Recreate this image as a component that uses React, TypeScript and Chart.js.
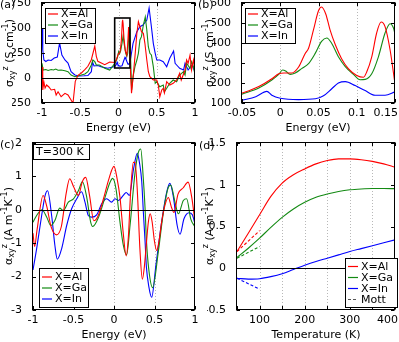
import React, { useEffect, useRef } from 'react';
import { Chart, registerables } from 'chart.js';

Chart.register(...registerables);
Chart.defaults.font.family = '"DejaVu Sans", sans-serif';
Chart.defaults.font.size = 11;
Chart.defaults.color = '#000';

type Pt = [number, number];

const W = 399;
const H = 342;
const RED = '#ff0000';
const GREEN = '#138a13';
const BLUE = '#0000ff';
const MOTT = '#555555';
const FONT = '11px "DejaVu Sans", sans-serif';
const SMALL = '8px "DejaVu Sans", sans-serif';

// ---------- Panel (a): sigma_xy^z vs energy, full range ----------
const aAl: Pt[] = [[-1.0,110],[-0.99,-120],[-0.975,-40],[-0.96,-100],[-0.94,-70],[-0.91,-90],[-0.88,-120],[-0.835,-113],[-0.815,-170],[-0.79,-137],[-0.75,-187],[-0.7,-153],[-0.66,-170],[-0.62,-220],[-0.595,-253],[-0.565,-33],[-0.53,27],[-0.485,50],[-0.44,83],[-0.4,117],[-0.355,183],[-0.31,320],[-0.29,217],[-0.27,167],[-0.225,150],[-0.18,133],[-0.115,160],[-0.05,155],[-0.028,182],[-0.011,221],[0.0,246],[0.015,250],[0.024,280],[0.037,374],[0.05,561],[0.054,583],[0.06,544],[0.072,391],[0.089,272],[0.108,229],[0.12,331],[0.132,510],[0.144,365],[0.15,195],[0.16,13],[0.17,-153],[0.19,0],[0.215,213],[0.24,447],[0.26,563],[0.28,513],[0.3,463],[0.325,447],[0.345,347],[0.37,180],[0.39,63],[0.41,13],[0.455,-20],[0.5,-20],[0.52,-70],[0.54,-187],[0.565,-120],[0.585,-103],[0.6,-150],[0.63,-37],[0.67,-70],[0.715,-53],[0.76,-20],[0.8,47],[0.82,-20],[0.87,80],[0.89,180],[0.91,147],[0.935,230],[0.955,80],[0.98,180],[1.0,80]];
const aGa: Pt[] = [[-1.0,147],[-0.985,80],[-0.95,85],[-0.92,75],[-0.88,85],[-0.85,80],[-0.82,90],[-0.79,78],[-0.75,80],[-0.7,73],[-0.66,63],[-0.62,30],[-0.57,13],[-0.53,20],[-0.485,30],[-0.44,40],[-0.4,63],[-0.355,130],[-0.335,180],[-0.31,163],[-0.29,130],[-0.25,130],[-0.18,97],[-0.115,80],[-0.05,144],[-0.028,175],[-0.011,215],[0.002,263],[0.013,243],[0.028,272],[0.046,348],[0.061,425],[0.076,331],[0.096,243],[0.108,217],[0.12,246],[0.137,450],[0.144,496],[0.15,450],[0.16,150],[0.172,-120],[0.19,13],[0.215,113],[0.24,180],[0.26,247],[0.28,380],[0.3,413],[0.325,530],[0.35,610],[0.37,480],[0.39,313],[0.41,247],[0.43,230],[0.455,113],[0.48,-53],[0.5,-37],[0.54,-87],[0.585,-70],[0.6,-137],[0.63,-103],[0.67,-53],[0.715,-20],[0.76,-37],[0.8,30],[0.85,63],[0.87,30],[0.89,147],[0.935,97],[0.955,163],[0.98,113],[1.0,30]];
const aIn: Pt[] = [[-1.0,500],[-0.99,280],[-0.975,180],[-0.95,165],[-0.92,180],[-0.88,175],[-0.84,200],[-0.8,210],[-0.77,350],[-0.74,230],[-0.7,180],[-0.66,150],[-0.62,63],[-0.57,30],[-0.52,20],[-0.45,22],[-0.4,25],[-0.355,63],[-0.34,160],[-0.32,120],[-0.27,125],[-0.23,113],[-0.14,97],[-0.05,114],[-0.032,131],[-0.018,158],[-0.011,139],[0.0,124],[0.024,117],[0.046,121],[0.067,170],[0.085,207],[0.098,187],[0.111,162],[0.124,139],[0.137,139],[0.15,156],[0.17,250],[0.19,347],[0.24,463],[0.28,513],[0.32,530],[0.37,580],[0.4,700],[0.43,513],[0.455,347],[0.48,247],[0.5,180],[0.54,180],[0.585,163],[0.63,113],[0.67,197],[0.72,270],[0.74,147],[0.76,130],[0.8,97],[0.85,80],[0.87,147],[0.91,80],[0.96,130],[1.0,63]];
const aXTicks = [-1, -0.5, 0, 0.5, 1];
const aYTicks = [-250, 0, 250, 500, 750];

// ---------- Panel (b): zoom of the box in (a) ----------
const bAl: Pt[] = [[-0.05,150],[-0.04,163],[-0.028,182],[-0.011,221],[-0.002,246],[0.005,250],[0.015,250],[0.024,280],[0.0326,348],[0.037,374],[0.0435,467],[0.05,561],[0.054,580],[0.0596,544],[0.065,467],[0.072,391],[0.08,323],[0.089,272],[0.1,238],[0.1088,229],[0.113,255],[0.1196,331],[0.126,450],[0.1318,505],[0.137,482],[0.1436,365],[0.15,195]];
const bGa: Pt[] = [[-0.05,144],[-0.028,175],[-0.011,215],[-0.002,243],[0.003,265],[0.007,260],[0.013,243],[0.0196,250],[0.028,272],[0.037,297],[0.0457,348],[0.054,408],[0.0608,425],[0.067,400],[0.076,331],[0.085,282],[0.0957,243],[0.1044,216],[0.111,218],[0.1196,246],[0.1283,331],[0.137,450],[0.1436,496],[0.148,475],[0.15,445]];
const bIn: Pt[] = [[-0.05,114],[-0.032,131],[-0.0175,158],[-0.011,139],[0.0,124],[0.024,117],[0.046,121],[0.0565,136],[0.067,170],[0.076,200],[0.085,207],[0.098,187],[0.111,162],[0.124,139],[0.137,139],[0.15,156]];
const bXTicks = [-0.05, 0, 0.05, 0.1, 0.15];
const bYTicks = [100, 200, 300, 400, 500, 600];

// ---------- Panel (c): alpha_xy^z vs energy at T = 300 K ----------
const cAl: Pt[] = [[-1.0,-0.7],[-0.98,-1.1],[-0.95,-0.6],[-0.875,0.43],[-0.83,0.1],[-0.775,-0.52],[-0.71,-0.75],[-0.65,-0.5],[-0.59,0.5],[-0.547,0.93],[-0.5,0.7],[-0.44,0.43],[-0.39,0.85],[-0.35,0.97],[-0.3,0.4],[-0.25,-0.33],[-0.2,-0.2],[-0.13,0.33],[-0.06,0.95],[0.0,1.3],[0.037,0.95],[0.074,0.37],[0.115,-0.72],[0.15,-1.38],[0.177,-0.82],[0.206,0.56],[0.239,1.42],[0.26,1.42],[0.288,0.56],[0.321,-1.22],[0.35,-2.08],[0.375,-1.7],[0.4,-1.0],[0.425,-0.35],[0.447,-0.12],[0.47,-0.35],[0.5,-0.95],[0.527,-1.22],[0.555,-0.95],[0.588,-0.37],[0.62,0.05],[0.67,0.37],[0.71,0.07],[0.74,-0.08],[0.79,0.47],[0.855,0.66],[0.915,0.83],[0.96,0.37],[1.0,-0.37]];
const cGa: Pt[] = [[-1.0,-0.37],[-0.955,-0.17],[-0.89,0.0],[-0.83,-0.22],[-0.78,-0.47],[-0.73,-0.32],[-0.67,0.05],[-0.625,-0.02],[-0.564,0.23],[-0.5,0.33],[-0.44,0.57],[-0.39,0.84],[-0.337,0.38],[-0.288,-0.37],[-0.263,-0.5],[-0.19,-0.22],[-0.11,0.38],[-0.05,0.82],[-0.016,0.94],[0.025,0.62],[0.074,-0.37],[0.115,-1.06],[0.156,-1.35],[0.198,-0.47],[0.26,1.12],[0.3,1.71],[0.33,1.82],[0.36,1.0],[0.383,0.07],[0.4,-0.9],[0.43,-1.8],[0.477,-2.33],[0.547,-1.26],[0.61,-0.07],[0.67,0.67],[0.7,0.74],[0.753,0.23],[0.794,-0.12],[0.856,0.28],[0.897,0.33],[0.947,-0.27],[1.0,-0.51]];
const cIn: Pt[] = [[-1.0,-1.8],[-0.955,-1.16],[-0.893,-0.17],[-0.85,0.43],[-0.82,0.57],[-0.77,-0.17],[-0.73,-1.06],[-0.7,-1.48],[-0.646,-1.16],[-0.584,-0.47],[-0.523,0.03],[-0.46,0.33],[-0.4,0.54],[-0.358,0.23],[-0.317,-0.17],[-0.276,-0.22],[-0.214,-0.15],[-0.152,0.18],[-0.09,0.33],[-0.03,0.23],[0.012,0.33],[0.053,0.28],[0.115,0.43],[0.15,0.52],[0.19,0.43],[0.24,1.2],[0.288,1.69],[0.315,1.4],[0.342,0.86],[0.362,-0.05],[0.383,-0.92],[0.4,-1.71],[0.43,-2.3],[0.465,-2.62],[0.518,-1.65],[0.588,-0.37],[0.65,0.52],[0.69,0.79],[0.73,0.43],[0.78,-0.47],[0.815,-0.73],[0.864,-0.27],[0.926,-0.09],[0.967,-0.15],[1.0,-0.42]];
const cXTicks = [-1, -0.5, 0, 0.5, 1];
const cYTicks = [-3, -2, -1, 0, 1, 2];

// ---------- Panel (d): alpha_xy^z at E_F vs temperature ----------
const dAl: Pt[] = [[50,0.2],[75,0.42],[100,0.64],[125,0.86],[150,1.02],[175,1.12],[200,1.19],[225,1.25],[250,1.29],[275,1.31],[300,1.31],[325,1.3],[350,1.28],[375,1.25],[400,1.21]];
const dGa: Pt[] = [[50,0.13],[75,0.24],[100,0.36],[125,0.49],[150,0.61],[175,0.71],[200,0.79],[225,0.85],[250,0.89],[275,0.92],[300,0.94],[325,0.95],[350,0.955],[375,0.955],[400,0.953]];
const dIn: Pt[] = [[50,-0.12],[75,-0.13],[100,-0.125],[125,-0.1],[150,-0.065],[175,-0.015],[200,0.035],[225,0.08],[250,0.12],[275,0.16],[300,0.2],[325,0.235],[350,0.27],[375,0.305],[400,0.34]];
const dMottAl: Pt[] = [[50,0.2],[100,0.45]];
const dMottGa: Pt[] = [[50,0.12],[100,0.26]];
const dMottIn: Pt[] = [[50,-0.12],[100,-0.25]];
const dXTicks = [50, 100, 150, 200, 250, 300, 350, 400];
const dXLabels = [100, 200, 300, 400];
const dYTicks = [-0.5, 0, 0.5, 1, 1.5];

const materialLabels = ['X=Al', 'X=Ga', 'X=In'];
const mottLabel = 'Mott';

type Part = { t: string; k: 'n' | 'sub' | 'sup' };
const sigmaTitle: Part[] = [
  { t: 'σ', k: 'n' }, { t: 'xy', k: 'sub' }, { t: 'z', k: 'sup' },
  { t: ' (S cm', k: 'n' }, { t: '-1', k: 'sup' }, { t: ')', k: 'n' },
];
const alphaTitle: Part[] = [
  { t: 'α', k: 'n' }, { t: 'xy', k: 'sub' }, { t: 'z', k: 'sup' },
  { t: ' (A m', k: 'n' }, { t: '-1', k: 'sup' }, { t: 'K', k: 'n' }, { t: '-1', k: 'sup' }, { t: ')', k: 'n' },
];

interface Series { data: Pt[]; color: string; dash?: number[]; smooth: boolean }
interface LegendEntry { label: string; color: string; dash?: number[] }
interface Panel {
  area: { l: number; t: number; r: number; b: number };
  x: [number, number]; y: [number, number];
  xTicks: number[]; yTicks: number[]; xLabels?: number[];
  series: Series[];
  grid: number[];
  zero: boolean;
  tag: { text: string; x: number; y: number };
  xTitle: { text: string; x: number; y: number };
  yTitle: { parts: Part[]; x: number; y: number };
  legend: { x: number; y: number; w: number; h: number; rows: number[]; entries: LegendEntry[] };
  note?: { text: string; x: number; y: number; w: number; h: number };
  inset?: { x0: number; x1: number; y0: number; y1: number };
}

const mat = (i: number): LegendEntry => ({ label: materialLabels[i], color: [RED, GREEN, BLUE][i] });

const PANELS: Panel[] = [
  {
    area: { l: 42, t: 3, r: 195, b: 103 }, x: [-1, 1], y: [-250, 750],
    xTicks: aXTicks, yTicks: aYTicks,
    series: [
      { data: aAl, color: RED, smooth: false },
      { data: aGa, color: GREEN, smooth: false },
      { data: aIn, color: BLUE, smooth: false },
    ],
    grid: [-0.5, 0, 0.5], zero: true,
    tag: { text: '(a)', x: 0, y: 5 },
    xTitle: { text: 'Energy (eV)', x: 118.5, y: 128 },
    yTitle: { parts: sigmaTitle, x: 10, y: 53 },
    legend: { x: 45, y: 8, w: 50, h: 35, rows: [14, 25, 36], entries: [mat(0), mat(1), mat(2)] },
    inset: { x0: -0.05, x1: 0.15, y0: 100, y1: 600 },
  },
  {
    area: { l: 242, t: 3, r: 395, b: 103 }, x: [-0.05, 0.15], y: [100, 600],
    xTicks: bXTicks, yTicks: bYTicks,
    series: [
      { data: bAl, color: RED, smooth: true },
      { data: bGa, color: GREEN, smooth: true },
      { data: bIn, color: BLUE, smooth: true },
    ],
    grid: [0, 0.05, 0.1], zero: false,
    tag: { text: '(b)', x: 198, y: 5 },
    xTitle: { text: 'Energy (eV)', x: 318, y: 128 },
    yTitle: { parts: sigmaTitle, x: 210, y: 53 },
    legend: { x: 245, y: 8, w: 50, h: 35, rows: [14, 25, 36], entries: [mat(0), mat(1), mat(2)] },
  },
  {
    area: { l: 33, t: 143, r: 195, b: 310 }, x: [-1, 1], y: [-3, 2],
    xTicks: cXTicks, yTicks: cYTicks,
    series: [
      { data: cAl, color: RED, smooth: true },
      { data: cGa, color: GREEN, smooth: true },
      { data: cIn, color: BLUE, smooth: true },
    ],
    grid: [-0.5, 0, 0.5], zero: true,
    tag: { text: '(c)', x: 0, y: 145 },
    xTitle: { text: 'Energy (eV)', x: 114, y: 335 },
    yTitle: { parts: alphaTitle, x: 9, y: 226 },
    legend: { x: 39, y: 268, w: 49, h: 39, rows: [277, 288, 299], entries: [mat(0), mat(1), mat(2)] },
    note: { text: 'T=300 K', x: 33, y: 144, w: 56, h: 15 },
  },
  {
    area: { l: 237, t: 143, r: 395, b: 310 }, x: [50, 400], y: [-0.5, 1.5],
    xTicks: dXTicks, yTicks: dYTicks, xLabels: dXLabels,
    series: [
      { data: dAl, color: RED, smooth: true },
      { data: dGa, color: GREEN, smooth: true },
      { data: dIn, color: BLUE, smooth: true },
      { data: dMottAl, color: RED, dash: [3, 2], smooth: false },
      { data: dMottGa, color: GREEN, dash: [3, 2], smooth: false },
      { data: dMottIn, color: BLUE, dash: [3, 2], smooth: false },
    ],
    grid: [100, 150, 200, 250, 300, 350], zero: true,
    tag: { text: '(d)', x: 199, y: 146 },
    xTitle: { text: 'Temperature (K)', x: 316, y: 335 },
    yTitle: { parts: alphaTitle, x: 210, y: 226 },
    legend: {
      x: 345, y: 258, w: 52, h: 49, rows: [266.5, 277.5, 288.5, 299.5],
      entries: [mat(0), mat(1), mat(2), { label: mottLabel, color: MOTT, dash: [3, 2] }],
    },
  },
];

const YW = 30;
const XH = 20;
const crisp = (v: number) => Math.round(v) + 0.5;
const fmt = (v: number) => String(Number(v.toFixed(4)));

function drawRichV(ctx: CanvasRenderingContext2D, cx: number, cy: number, parts: Part[]) {
  const widths = parts.map((p) => {
    ctx.font = p.k === 'n' ? FONT : SMALL;
    return ctx.measureText(p.t).width;
  });
  const total = widths.reduce((a, b) => a + b, 0);
  ctx.save();
  ctx.translate(cx, cy);
  ctx.rotate(-Math.PI / 2);
  ctx.textBaseline = 'middle';
  ctx.textAlign = 'left';
  ctx.fillStyle = '#000';
  let u = -total / 2;
  parts.forEach((p, i) => {
    ctx.font = p.k === 'n' ? FONT : SMALL;
    const v = p.k === 'sub' ? 3 : p.k === 'sup' ? -4 : 0;
    ctx.fillText(p.t, u, v);
    u += widths[i];
  });
  ctx.restore();
}

function decoPlugin(p: Panel) {
  return {
    id: 'deco',
    beforeDatasetsDraw(chart: any) {
      const { ctx, chartArea: ca, scales } = chart;
      const xs = scales.x;
      ctx.save();
      ctx.strokeStyle = '#b8b8b8';
      ctx.lineWidth = 1;
      ctx.setLineDash([1, 2]);
      for (const g of p.grid) {
        const px = crisp(xs.getPixelForValue(g));
        ctx.beginPath();
        ctx.moveTo(px, ca.top);
        ctx.lineTo(px, ca.bottom);
        ctx.stroke();
      }
      ctx.restore();
    },
    afterDatasetsDraw(chart: any) {
      const { ctx, chartArea: ca, scales } = chart;
      const xs = scales.x;
      const ys = scales.y;
      ctx.save();
      ctx.setLineDash([]);
      ctx.strokeStyle = '#000';
      ctx.lineWidth = 1;
      if (p.zero) {
        const py = crisp(ys.getPixelForValue(0));
        ctx.beginPath();
        ctx.moveTo(ca.left, py);
        ctx.lineTo(ca.right, py);
        ctx.stroke();
      }
      if (p.inset) {
        const x0 = xs.getPixelForValue(p.inset.x0);
        const x1 = xs.getPixelForValue(p.inset.x1);
        const y0 = ys.getPixelForValue(p.inset.y0);
        const y1 = ys.getPixelForValue(p.inset.y1);
        ctx.lineWidth = 1.6;
        ctx.strokeRect(x0, y1, x1 - x0, y0 - y1);
        ctx.lineWidth = 1;
      }
      // frame
      const L = crisp(ca.left) - 1, T = crisp(ca.top) - 1, R = crisp(ca.right) - 1, B = crisp(ca.bottom) - 1;
      ctx.strokeRect(L, T, R - L, B - T);
      // inner ticks
      const tl = 3.5;
      ctx.beginPath();
      for (const v of p.xTicks) {
        const px = crisp(xs.getPixelForValue(v));
        ctx.moveTo(px, B); ctx.lineTo(px, B - tl);
        ctx.moveTo(px, T); ctx.lineTo(px, T + tl);
      }
      for (const v of p.yTicks) {
        const py = crisp(ys.getPixelForValue(v));
        ctx.moveTo(L, py); ctx.lineTo(L + tl, py);
        ctx.moveTo(R, py); ctx.lineTo(R - tl, py);
      }
      ctx.stroke();
      // x tick labels (kept inside the figure at the right edge)
      ctx.font = FONT;
      ctx.fillStyle = '#000';
      ctx.textBaseline = 'middle';
      ctx.textAlign = 'center';
      const labels = p.xLabels || p.xTicks;
      for (const v of labels) {
        const s = fmt(v);
        const w = ctx.measureText(s).width;
        let px = xs.getPixelForValue(v);
        if (px + w / 2 > W - 1) px = W - 1 - w / 2;
        ctx.fillText(s, px, ca.bottom + 10.5);
      }
      // legend
      const lg = p.legend;
      ctx.fillStyle = '#fff';
      ctx.fillRect(lg.x + 0.5, lg.y + 0.5, lg.w, lg.h);
      ctx.strokeRect(lg.x + 0.5, lg.y + 0.5, lg.w, lg.h);
      ctx.textAlign = 'left';
      lg.entries.forEach((e, i) => {
        const ry = lg.rows[i];
        ctx.strokeStyle = e.color;
        ctx.lineWidth = 1.2;
        ctx.setLineDash(e.dash || []);
        ctx.beginPath();
        ctx.moveTo(lg.x + 3, ry);
        ctx.lineTo(lg.x + 13, ry);
        ctx.stroke();
        ctx.setLineDash([]);
        ctx.fillStyle = '#000';
        ctx.fillText(e.label, lg.x + 16, ry + 0.5);
      });
      ctx.strokeStyle = '#000';
      ctx.lineWidth = 1;
      if (p.note) {
        const n = p.note;
        ctx.fillStyle = '#fff';
        ctx.fillRect(n.x + 0.5, n.y + 0.5, n.w, n.h);
        ctx.strokeRect(n.x + 0.5, n.y + 0.5, n.w, n.h);
        ctx.fillStyle = '#000';
        ctx.fillText(n.text, n.x + 3, n.y + n.h / 2 + 1);
      }
      // panel tag and titles
      ctx.fillStyle = '#000';
      ctx.font = FONT;
      ctx.textAlign = 'left';
      ctx.fillText(p.tag.text, p.tag.x, p.tag.y);
      ctx.textAlign = 'center';
      ctx.fillText(p.xTitle.text, p.xTitle.x, p.xTitle.y);
      drawRichV(ctx, p.yTitle.x, p.yTitle.y, p.yTitle.parts);
      ctx.restore();
    },
  };
}

function fitScale(size: 'w' | 'h') {
  return (s: any) => {
    if (size === 'w') s.width = YW; else s.height = XH;
    s.paddingLeft = 0; s.paddingRight = 0; s.paddingTop = 0; s.paddingBottom = 0;
  };
}

function makeChart(canvas: HTMLCanvasElement, p: Panel) {
  const a = p.area;
  const xStep = p.xTicks[1] - p.xTicks[0];
  const yStep = p.yTicks[1] - p.yTicks[0];
  return new Chart(canvas, {
    type: 'line',
    data: {
      datasets: p.series.map((s) => ({
        data: s.data.map(([x, y]) => ({ x, y })),
        borderColor: s.color,
        borderWidth: 1.1,
        borderDash: s.dash || [],
        pointRadius: 0,
        fill: false,
        tension: s.smooth ? 0.4 : 0,
        cubicInterpolationMode: s.smooth ? 'monotone' : 'default',
      })),
    },
    options: {
      responsive: false,
      animation: false,
      devicePixelRatio: 1,
      events: [],
      layout: { padding: { left: a.l - YW, top: a.t, right: W - a.r, bottom: H - a.b - XH } },
      plugins: { legend: { display: false }, tooltip: { enabled: false } },
      scales: {
        x: {
          type: 'linear', min: p.x[0], max: p.x[1],
          grid: { display: false }, border: { display: false },
          ticks: { display: false, stepSize: xStep, maxRotation: 0, minRotation: 0, autoSkip: false },
          afterFit: fitScale('h'),
        },
        y: {
          type: 'linear', min: p.y[0], max: p.y[1],
          grid: { display: false }, border: { display: false },
          ticks: {
            stepSize: yStep, padding: 3, autoSkip: false, color: '#000', font: { size: 11 },
            callback: (v: any) => fmt(Number(v)),
          },
          afterFit: fitScale('w'),
        },
      },
    } as any,
    plugins: [decoPlugin(p)],
  });
}

export default function App() {
  const refs = useRef<(HTMLCanvasElement | null)[]>([]);
  useEffect(() => {
    const charts = PANELS.map((p, i) => makeChart(refs.current[i] as HTMLCanvasElement, p));
    return () => charts.forEach((c) => c.destroy());
  }, []);
  return (
    <div style={{ position: 'absolute', left: 0, top: 0, width: W, height: H, background: '#fff', overflow: 'hidden' }}>
      {PANELS.map((_, i) => (
        <canvas
          key={i}
          ref={(el) => { refs.current[i] = el; }}
          width={W}
          height={H}
          style={{ position: 'absolute', left: 0, top: 0, width: W, height: H }}
        />
      ))}
    </div>
  );
}
